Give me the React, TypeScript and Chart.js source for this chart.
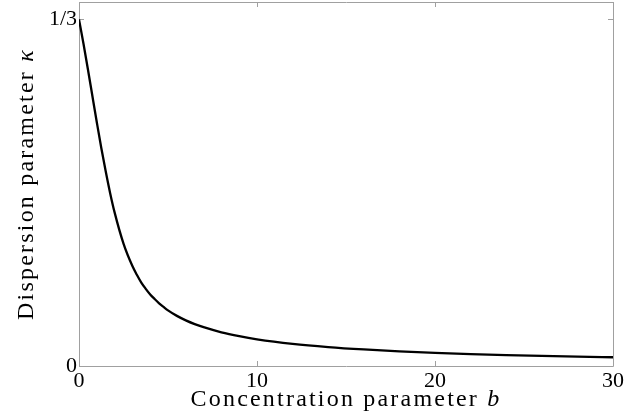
import { useEffect, useRef } from "react";
import { Chart, registerables } from "chart.js";

Chart.register(...registerables);

// Concentration parameter b (x) and dispersion parameter kappa (y)
const bValues = [0, 0.25, 0.5, 0.75, 1, 1.25, 1.5, 1.75, 2, 2.5, 3, 3.25, 3.5, 3.75, 4, 4.25, 4.5, 4.75, 5, 5.5, 6, 6.5, 7, 8, 9, 10, 12, 14, 16, 18, 20, 22, 24, 26, 28, 30];
const kappaValues = [0.3333, 0.3101, 0.2854, 0.2598, 0.2344, 0.2098, 0.1872, 0.1662, 0.1477, 0.1177, 0.0961, 0.0877, 0.0802, 0.0742, 0.0688, 0.0644, 0.0603, 0.0568, 0.0535, 0.0482, 0.0439, 0.0403, 0.0373, 0.0324, 0.0287, 0.0257, 0.0213, 0.0182, 0.0159, 0.0141, 0.0127, 0.0115, 0.0105, 0.0097, 0.009, 0.0084];

const xTickValues = [0, 10, 20, 30];
const xTickLabels = ["0", "10", "20", "30"];
const yTickValues = [0, 1 / 3];
const yTickLabels = ["0", "1/3"];

const xTitleText = "Concentration parameter ";
const xTitleVar = "b";
const yTitleText = "Dispersion parameter ";
const yTitleVar = "κ";

const FONT = "'Liberation Serif', 'DejaVu Serif', serif";
const FRAME = "#a0a0a0";

function drawMixed(ctx: any, a: string, b: string, size: number, spacing: number, cx: number, baseline: number) {
  const normal = `${size}px ${FONT}`;
  const italic = `italic ${size}px ${FONT}`;
  (ctx as any).letterSpacing = `${spacing}px`;
  ctx.font = normal;
  const w1 = ctx.measureText(a).width;
  ctx.font = italic;
  const w2 = ctx.measureText(b).width;
  const sx = cx - (w1 + w2) / 2;
  ctx.font = normal;
  ctx.fillText(a, sx, baseline);
  ctx.font = italic;
  ctx.fillText(b, sx + w1, baseline);
  (ctx as any).letterSpacing = "0px";
}

const framePlugin = {
  id: "frame",
  beforeDatasetsDraw(chart: any) {
    const { ctx, chartArea } = chart;
    const { left, right, top, bottom } = chartArea;
    const xs = chart.scales.x;
    const ys = chart.scales.y;
    ctx.save();
    ctx.strokeStyle = FRAME;
    ctx.lineWidth = 1;
    ctx.beginPath();
    ctx.rect(Math.round(left) + 0.5, Math.round(top) + 0.5, Math.round(right - left), Math.round(bottom - top));
    ctx.stroke();
    const tl = 5;
    ctx.beginPath();
    for (const v of xTickValues) {
      const px = Math.round(xs.getPixelForValue(v)) + 0.5;
      ctx.moveTo(px, bottom);
      ctx.lineTo(px, bottom - tl);
      ctx.moveTo(px, top);
      ctx.lineTo(px, top + tl);
    }
    for (const v of yTickValues) {
      const py = Math.round(ys.getPixelForValue(v)) + 0.5;
      ctx.moveTo(left, py);
      ctx.lineTo(left + tl, py);
      ctx.moveTo(right, py);
      ctx.lineTo(right - tl, py);
    }
    ctx.stroke();
    ctx.restore();
  },
  afterDraw(chart: any) {
    const { ctx, chartArea } = chart;
    const { left, right, top, bottom } = chartArea;
    ctx.save();
    ctx.fillStyle = "#000";
    ctx.textBaseline = "alphabetic";
    ctx.textAlign = "left";
    drawMixed(ctx, xTitleText, xTitleVar, 24, 2.2, (left + right) / 2, 406);
    ctx.translate(33, (top + bottom) / 2);
    ctx.rotate(-Math.PI / 2);
    drawMixed(ctx, yTitleText, yTitleVar, 24, 2.2, 0, 0);
    ctx.restore();
  },
};

export default function App() {
  const canvasRef = useRef<HTMLCanvasElement | null>(null);

  useEffect(() => {
    document.body.style.margin = "0";
    const canvas = canvasRef.current;
    if (!canvas) return;
    const chart = new Chart(canvas, {
      type: "line",
      data: {
        datasets: [
          {
            data: bValues.map((b, i) => ({ x: b, y: kappaValues[i] })),
            borderColor: "#000",
            borderWidth: 2.3,
            pointRadius: 0,
            fill: false,
            cubicInterpolationMode: "monotone",
          },
        ],
      },
      options: {
        responsive: false,
        animation: false,
        layout: { padding: { top: 2, right: 11, left: 0, bottom: 0 } },
        plugins: { legend: { display: false }, tooltip: { enabled: false } },
        scales: {
          x: {
            type: "linear",
            min: 0,
            max: 30,
            afterBuildTicks: (scale: any) => {
              scale.ticks = xTickValues.map((v) => ({ value: v }));
            },
            afterFit: (scale: any) => {
              scale.height = 53;
              scale.paddingLeft = 0;
              scale.paddingRight = 0;
              scale.paddingTop = 0;
              scale.paddingBottom = 0;
            },
            ticks: {
              callback: (_v: any, i: number) => xTickLabels[i],
              color: "#000",
              font: { family: FONT, size: 22 },
              padding: 2,
              maxRotation: 0,
              autoSkip: false,
            },
            grid: { display: false, drawTicks: false },
            border: { display: false },
          },
          y: {
            type: "linear",
            min: 0,
            max: 0.35,
            afterBuildTicks: (scale: any) => {
              scale.ticks = yTickValues.map((v) => ({ value: v }));
            },
            afterFit: (scale: any) => {
              scale.width = 79;
              scale.paddingLeft = 0;
              scale.paddingRight = 0;
              scale.paddingTop = 0;
              scale.paddingBottom = 0;
            },
            ticks: {
              callback: (_v: any, i: number) => yTickLabels[i],
              color: "#000",
              font: { family: FONT, size: 22 },
              padding: 2,
              autoSkip: false,
            },
            grid: { display: false, drawTicks: false },
            border: { display: false },
          },
        },
      },
      plugins: [framePlugin],
    } as any);
    return () => chart.destroy();
  }, []);

  return (
    <div style={{ width: 624, height: 419 }}>
      <canvas ref={canvasRef} width={624} height={419} style={{ display: "block" }} />
    </div>
  );
}
